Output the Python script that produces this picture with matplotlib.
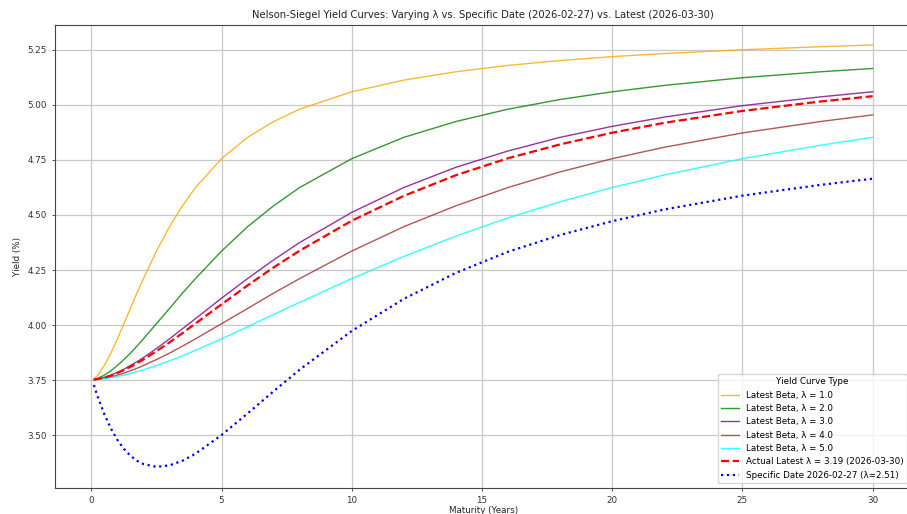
import matplotlib
matplotlib.use("Agg")
import matplotlib.pyplot as plt
from matplotlib.ticker import FormatStrFormatter

maturity = [0.1, 0.25, 0.5, 0.75, 1, 1.25, 1.5, 1.75, 2, 2.5, 3, 3.5, 4, 5, 6, 7, 8,
            10, 12, 14, 16, 18, 20, 22, 25, 28, 30]

# Latest beta, varying lambda
yield_l1 = [3.756, 3.772, 3.816, 3.872, 3.937, 4.006, 4.075, 4.145, 4.211, 4.336, 4.447, 4.542,
            4.625, 4.756, 4.853, 4.925, 4.981,
            5.060, 5.113, 5.151, 5.180, 5.202, 5.220, 5.234, 5.251, 5.265, 5.273]
yield_l2 = [3.752, 3.758, 3.772, 3.792, 3.816, 3.843, 3.872, 3.904, 3.937, 4.006, 4.075, 4.145,
            4.211, 4.336, 4.447, 4.542, 4.625,
            4.756, 4.853, 4.925, 4.981, 5.025, 5.060, 5.089, 5.124, 5.151, 5.166]
yield_l3 = [3.752, 3.754, 3.762, 3.772, 3.785, 3.799, 3.816, 3.833, 3.852, 3.893, 3.937, 3.983,
            4.029, 4.122, 4.211, 4.296, 4.375,
            4.512, 4.625, 4.717, 4.791, 4.853, 4.903, 4.945, 4.997, 5.037, 5.060]
yield_l4 = [3.751, 3.753, 3.758, 3.764, 3.772, 3.781, 3.792, 3.803, 3.816, 3.843, 3.872, 3.904,
            3.937, 4.006, 4.075, 4.145, 4.211,
            4.336, 4.447, 4.542, 4.625, 4.696, 4.756, 4.808, 4.873, 4.925, 4.955]
yield_l5 = [3.751, 3.752, 3.756, 3.760, 3.766, 3.772, 3.780, 3.788, 3.796, 3.816, 3.837, 3.860,
            3.885, 3.937, 3.992, 4.048, 4.103,
            4.211, 4.312, 4.404, 4.487, 4.560, 4.625, 4.682, 4.756, 4.817, 4.853]
# Actual latest lambda = 3.19
yield_latest = [3.752, 3.755, 3.761, 3.770, 3.782, 3.795, 3.810, 3.826, 3.843, 3.881, 3.921, 3.963,
                4.007, 4.094, 4.180, 4.262, 4.338,
                4.474, 4.587, 4.681, 4.758, 4.821, 4.874, 4.919, 4.973, 5.016, 5.040]
# Specific date 2026-02-27, lambda = 2.51
yield_specific = [3.727, 3.672, 3.595, 3.530, 3.478, 3.437, 3.406, 3.383, 3.368, 3.355, 3.362, 3.383,
                  3.415, 3.500, 3.598, 3.699, 3.797,
                  3.973, 4.119, 4.237, 4.333, 4.409, 4.472, 4.525, 4.588, 4.637, 4.665]

lambda_labels = ["1.0", "2.0", "3.0", "4.0", "5.0"]
lambda_curves = [yield_l1, yield_l2, yield_l3, yield_l4, yield_l5]
lambda_colors = ["orange", "green", "purple", "brown", "cyan"]

FS = 6.3

fig = plt.figure(figsize=(9.07, 5.14), dpi=100, facecolor="white")
# axes runs slightly past the right edge, as in the reference crop
ax = fig.add_axes([55 / 907, (514 - 487.7) / 514, 856.6 / 907, 462.7 / 514])

for lab, ys, col in zip(lambda_labels, lambda_curves, lambda_colors):
    ax.plot(maturity, ys, color=col, linewidth=1.0, alpha=0.8,
            label=f"Latest Beta, λ = {lab}")

ax.plot(maturity, yield_latest, color="red", linestyle="--", linewidth=1.6,
        label="Actual Latest λ = 3.19 (2026-03-30)")
ax.plot(maturity, yield_specific, color="blue", linestyle=":", linewidth=1.6,
        label="Specific Date 2026-02-27 (λ=2.51)")

ax.set_xlim(-1.395, 31.495)
ax.set_ylim(3.2605, 5.3636)
ax.set_xticks([0, 5, 10, 15, 20, 25, 30])
ax.set_yticks([3.50, 3.75, 4.00, 4.25, 4.50, 4.75, 5.00, 5.25])
ax.yaxis.set_major_formatter(FormatStrFormatter("%.2f"))
ax.tick_params(labelsize=FS, length=2.3, width=0.6, colors="#333333")

ax.grid(True, color="#c8c8c8", linewidth=0.9)
for sp in ax.spines.values():
    sp.set_color("#444444")
    sp.set_linewidth(0.8)

ax.set_title("Nelson-Siegel Yield Curves: Varying λ vs. Specific Date (2026-02-27) vs. Latest (2026-03-30)",
             fontsize=7.2, color="#222222", pad=5)
ax.set_xlabel("Maturity (Years)", fontsize=FS, color="#222222", labelpad=1)
ax.set_ylabel("Yield (%)", fontsize=FS, color="#222222", labelpad=4)

leg = ax.legend(title="Yield Curve Type", loc="lower right", fontsize=FS,
                title_fontsize=FS, handlelength=2.0, borderaxespad=0.5)

fig.savefig("out.png", dpi=100)
